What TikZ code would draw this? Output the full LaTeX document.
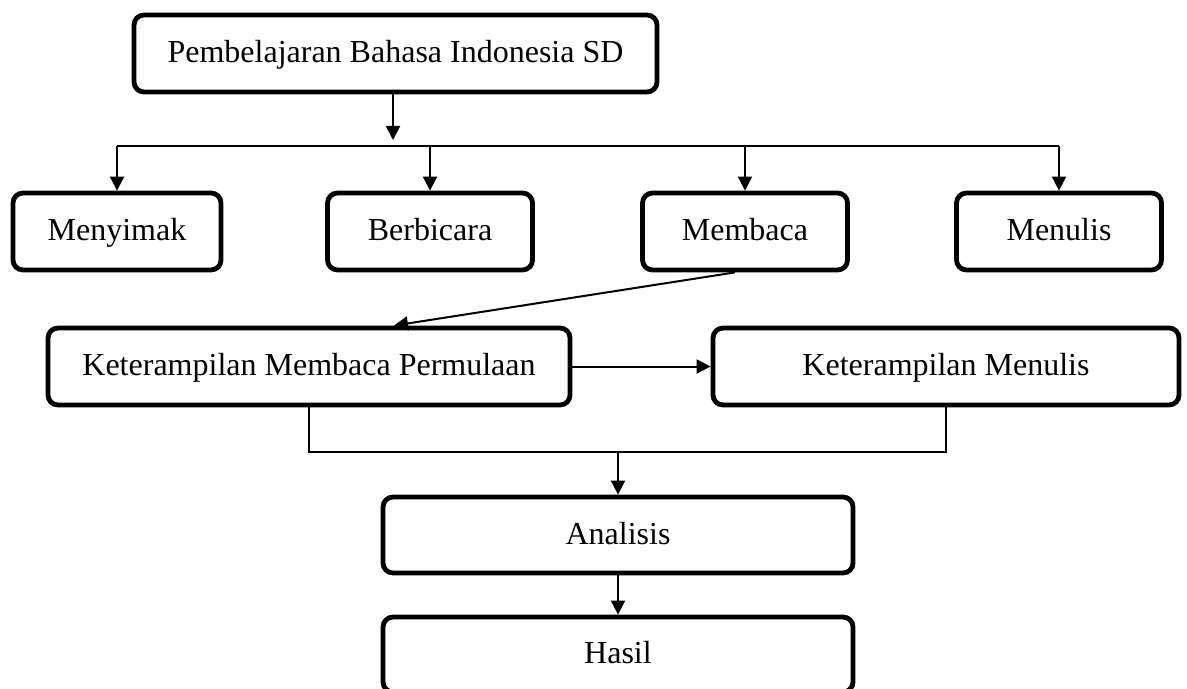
\documentclass[tikz,border=0pt]{standalone}
\usepackage{fontspec}
\setmainfont{Liberation Serif}
\usepackage{tikz}
\usetikzlibrary{arrows.meta,positioning,calc}

\begin{document}
\begin{tikzpicture}[
    x=0.5pt, y=-0.5pt,
    box/.style={rectangle, draw, rounded corners=5pt, line width=2.4pt, inner sep=0pt,
        minimum height=38.5pt, text height=12pt, text depth=3pt,
        align=center, font=\fontsize{16}{19}\selectfont},
    arrow/.style={-{Triangle[length=7pt,width=7pt]}, line width=1pt},
    link/.style={line width=0.6pt}
]
    \useasboundingbox (0,0) rectangle (1187,689);

    \node[box, minimum width=261.5pt] (bahasa) at (395.5,53.5) {Pembelajaran Bahasa Indonesia SD};
    \node[box, minimum width=104pt] (menyimak) at (117,231.5) {Menyimak};
    \node[box, minimum width=102.5pt] (berbicara) at (430,231.5) {Berbicara};
    \node[box, minimum width=102.5pt] (membaca) at (745,231.5) {Membaca};
    \node[box, minimum width=102.5pt] (menulis) at (1059,231.5) {Menulis};
    \node[box, minimum width=261pt] (permulaan) at (309,366.5) {Keterampilan Membaca Permulaan};
    \node[box, minimum width=233pt] (ktmenulis) at (946,366.5) {Keterampilan Menulis};
    \node[box, minimum width=235pt, minimum height=38pt] (analisis) at (618,535) {Analisis};
    \node[box, minimum width=235pt, minimum height=37.5pt] (hasil) at (618,654.5) {Hasil};

    \coordinate (split) at (393,146);
    \coordinate (join) at (618,452);

    \draw[arrow] (bahasa.south -| split) -- ([yshift=3pt]split);
    \draw[link] (menyimak.north |- split) -- (menulis.north |- split);
    \foreach \n in {menyimak,berbicara,membaca,menulis}
        \draw[arrow] (\n.north |- split) -- (\n.north);

    \draw[arrow] ([xshift=-5pt]membaca.south) -- ([xshift=42.5pt]permulaan.north);
    \draw[arrow] (permulaan.east) -- (ktmenulis.west);
    \draw[link] (permulaan.south) |- (join) -| (ktmenulis.south);
    \draw[arrow] (join) -- (analisis.north);
    \draw[arrow] (analisis.south) -- (hasil.north);
\end{tikzpicture}
\end{document}
